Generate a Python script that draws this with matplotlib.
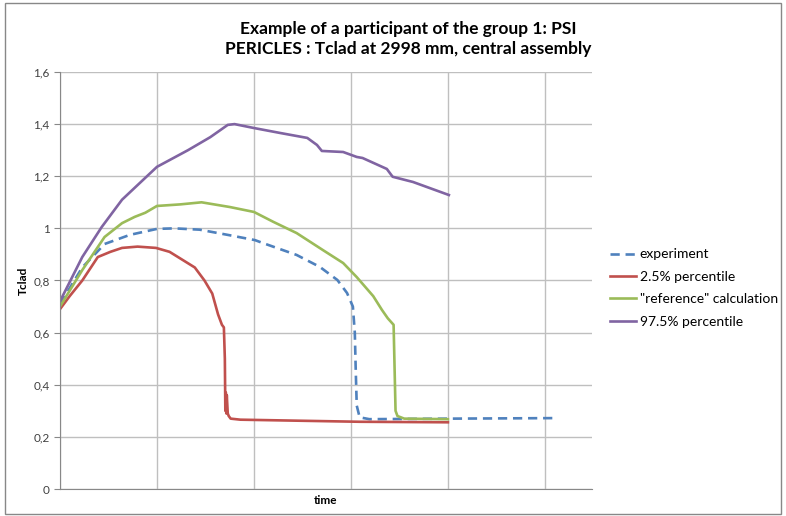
import numpy as np
import matplotlib.pyplot as plt
from matplotlib.patches import Rectangle
from matplotlib.ticker import FuncFormatter, MultipleLocator

# time in arbitrary units (one unit = one vertical gridline spacing)
t_exp = [0.0, 0.23, 0.46, 0.72, 1.0, 1.18, 1.44, 1.73, 2.01, 2.09, 2.44, 2.68, 2.86,
         2.96, 3.02, 3.04, 3.05, 3.06, 3.09, 3.19, 4.02, 5.08]
v_exp = [0.71, 0.85, 0.94, 0.975, 0.998, 1.0, 0.995, 0.975, 0.955, 0.944, 0.898,
         0.852, 0.802, 0.752, 0.70, 0.60, 0.45, 0.32, 0.275, 0.268, 0.27, 0.272]

t_low = [0.0, 0.1, 0.23, 0.39, 0.52, 0.64, 0.80, 0.99, 1.13, 1.26, 1.39, 1.49,
         1.57, 1.63, 1.67, 1.69, 1.70, 1.705, 1.71, 1.715, 1.72, 1.73, 1.74,
         1.76, 1.86, 2.47, 3.09, 4.0]
v_low = [0.69, 0.74, 0.80, 0.89, 0.91, 0.925, 0.93, 0.925, 0.91, 0.88, 0.85,
         0.80, 0.75, 0.67, 0.63, 0.62, 0.50, 0.30, 0.37, 0.29, 0.36, 0.29, 0.28,
         0.27, 0.266, 0.262, 0.258, 0.256]

t_ref = [0.0, 0.23, 0.46, 0.64, 0.77, 0.88, 1.0, 1.24, 1.46, 1.75, 2.0, 2.2, 2.44,
         2.71, 2.92, 3.06, 3.23, 3.32, 3.38, 3.44, 3.46, 3.48, 3.55, 4.0]
v_ref = [0.70, 0.84, 0.967, 1.02, 1.044, 1.06, 1.086, 1.092, 1.10, 1.082, 1.063,
         1.025, 0.982, 0.917, 0.867, 0.813, 0.74, 0.687, 0.655, 0.63, 0.30, 0.28,
         0.27, 0.268]

t_high = [0.0, 0.23, 0.43, 0.64, 1.0, 1.32, 1.55, 1.73, 1.8, 2.0, 2.27, 2.55, 2.65,
          2.70, 2.92, 3.06, 3.12, 3.37, 3.43, 3.64, 4.01]
v_high = [0.72, 0.89, 1.005, 1.11, 1.236, 1.30, 1.35, 1.397, 1.40, 1.385, 1.366,
          1.347, 1.32, 1.297, 1.293, 1.274, 1.27, 1.228, 1.198, 1.178, 1.128]

plt.rcParams["font.family"] = ["Lato", "DejaVu Sans"]

fig = plt.figure(figsize=(7.86, 5.16), dpi=100)
fig.patches.append(Rectangle((0.006, 0.004), 0.988, 0.99, transform=fig.transFigure,
                             fill=False, edgecolor="#888888", linewidth=1))
ax = fig.add_axes([0.0763, 0.0523, 0.6768, 0.8082])

ax.plot(t_exp, v_exp, color="#4F81BD", linewidth=1.9, dashes=(3.5, 2.2), label="experiment")
ax.plot(t_low, v_low, color="#C0504D", linewidth=1.9, label="2.5% percentile")
ax.plot(t_ref, v_ref, color="#9BBB59", linewidth=1.9, label="\"reference\" calculation")
ax.plot(t_high, v_high, color="#8064A2", linewidth=1.9, label="97.5% percentile")

ax.set_xlim(0, 5.485)
ax.set_ylim(0, 1.6)
ax.xaxis.set_major_locator(MultipleLocator(1))
ax.yaxis.set_major_locator(MultipleLocator(0.2))
ax.yaxis.set_major_formatter(FuncFormatter(lambda v, p: ("%g" % round(v, 1)).replace(".", ",")))
ax.grid(True, color="#BFBFBF", linewidth=1)
ax.set_axisbelow(True)
ax.tick_params(axis="x", length=0, labelbottom=False)
ax.tick_params(axis="y", length=4, color="#888888", labelsize=8.5, labelcolor="#404040")
for s in ["top", "right"]:
    ax.spines[s].set_visible(False)
for s in ["left", "bottom"]:
    ax.spines[s].set_color("#888888")

ax.set_xlabel("time", fontsize=8.5, fontweight="bold", labelpad=4)
ax.set_ylabel("Tclad", fontsize=8.5, fontweight="bold", labelpad=3)

fig.text(0.519, 0.944, "Example of a participant of the group 1: PSI", ha="center",
         va="center", fontsize=12.5, fontweight="bold")
fig.text(0.519, 0.905, "PERICLES : Tclad at 2998 mm, central assembly", ha="center",
         va="center", fontsize=12.5, fontweight="bold")

ax.legend(loc="upper left", bbox_to_anchor=(1.01, 0.607), frameon=False, fontsize=10,
          handlelength=1.9, handletextpad=0.25, labelspacing=0.75)

plt.savefig("out.png", dpi=100)
